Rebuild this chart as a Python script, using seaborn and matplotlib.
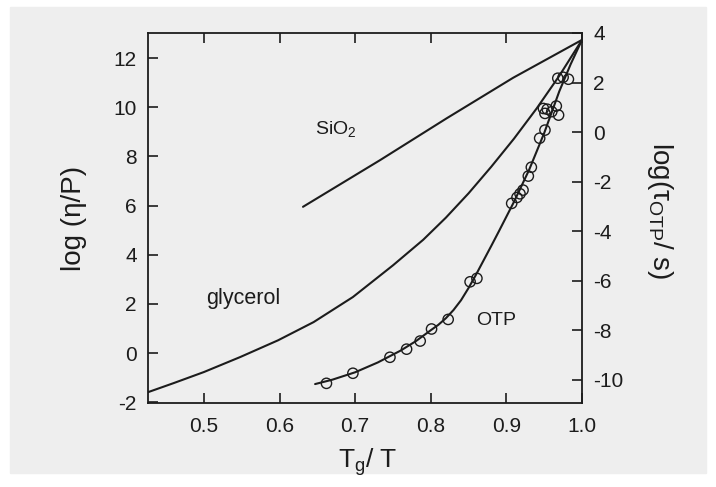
import matplotlib
matplotlib.use("Agg")
import matplotlib.pyplot as plt
import matplotlib.patches as mpatches
import seaborn as sns
import pandas as pd

# ---- data ----
sio2_x = [0.631, 0.733, 0.821, 0.909, 1.0]
sio2_y = [5.95, 7.85, 9.55, 11.2, 12.74]

glyc_x = [0.426, 0.46, 0.5, 0.548, 0.598, 0.645, 0.697, 0.75, 0.79, 0.82,
          0.85, 0.88, 0.91, 0.94, 0.97, 1.0]
glyc_y = [-1.59, -1.22, -0.77, -0.16, 0.52, 1.26, 2.28, 3.57, 4.61, 5.51,
          6.5, 7.58, 8.72, 9.95, 11.28, 12.74]

otp_line_x = [0.647, 0.67, 0.70, 0.73, 0.76, 0.78, 0.80, 0.81, 0.82, 0.83, 0.84,
              0.85, 0.86, 0.87, 0.88, 0.89, 0.90, 0.91, 0.93, 0.95, 0.97, 0.985, 1.0]
otp_line_y = [-1.26, -1.08, -0.78, -0.38, 0.1, 0.48, 0.93, 1.15, 1.42, 1.75, 2.15,
              2.65, 3.2, 3.78, 4.36, 4.95, 5.55, 6.15, 7.45, 8.95, 10.65, 11.75, 12.74]

otp_pts_x = [0.662, 0.697, 0.746, 0.768, 0.786, 0.801, 0.823, 0.852, 0.861,
             0.907, 0.914, 0.918, 0.922, 0.929, 0.933, 0.944, 0.951,
             0.951, 0.954, 0.960, 0.966, 0.969, 0.949,
             0.968, 0.975, 0.982]
otp_pts_y = [-1.23, -0.82, -0.17, 0.16, 0.49, 0.98, 1.37, 2.9, 3.04,
             6.09, 6.33, 6.48, 6.63, 7.2, 7.56, 8.74, 9.07,
             9.75, 9.92, 9.82, 10.05, 9.68, 9.95,
             11.18, 11.22, 11.14]

x_ticks = [0.5, 0.6, 0.7, 0.8, 0.9, 1.0]
y_ticks = [-2, 0, 2, 4, 6, 8, 10, 12]
y2_ticks = [-10, -8, -6, -4, -2, 0, 2, 4]

# ---- style ----
sns.set_theme(style="ticks")
plt.rcParams['font.family'] = ['Liberation Sans', 'DejaVu Sans']
plt.rcParams['axes.unicode_minus'] = False
plt.rcParams['mathtext.default'] = 'regular'

BG = '#eeeeee'
INK = '#1c1c1c'

fig = plt.figure(figsize=(7.16, 4.87), dpi=100, facecolor='white')
fig.patches.append(mpatches.Rectangle((0.014, 0.028), 0.972, 0.958,
                                      transform=fig.transFigure, color=BG, zorder=-10))
ax = fig.add_axes([148/716, (487-403)/487, 434/716, 370/487])
ax.set_facecolor(BG)

df_s = pd.DataFrame({'x': sio2_x, 'y': sio2_y})
df_g = pd.DataFrame({'x': glyc_x, 'y': glyc_y})
df_o = pd.DataFrame({'x': otp_line_x, 'y': otp_line_y})
df_p = pd.DataFrame({'x': otp_pts_x, 'y': otp_pts_y})

for d in (df_s, df_g, df_o):
    sns.lineplot(data=d, x='x', y='y', ax=ax, color=INK, lw=1.5, sort=False,
                 estimator=None)
sns.scatterplot(data=df_p, x='x', y='y', ax=ax, marker='o', s=55,
                facecolor='none', edgecolor=INK, linewidth=1.0, zorder=3)

ax.set_xlim(0.426, 1.0)
ax.set_ylim(-2.03, 13.02)
ax.set_xticks(x_ticks)
ax.set_yticks(y_ticks)
ax.set_xticklabels([f"{v:.1f}" for v in x_ticks])
ax.set_yticklabels([str(v) for v in y_ticks])

for sp in ax.spines.values():
    sp.set_visible(True)
    sp.set_color(INK)
    sp.set_linewidth(1.3)

ax.tick_params(axis='x', direction='in', top=True, length=7, width=1.2,
               labelsize=15, pad=10, colors=INK)
ax.tick_params(axis='y', direction='in', left=True, right=False, length=7,
               width=1.2, labelsize=15, pad=8, colors=INK)

ax.set_xlabel('T$_g$/ T', fontsize=19, color=INK)
ax.xaxis.set_label_coords(0.507, -0.118)
ax.set_ylabel('log (η/P)', fontsize=20, color=INK)
ax.yaxis.set_label_coords(-0.141, 0.5)

ax2 = ax.twinx()
ax2.set_ylim(-10.94, 4.0)
ax2.set_yticks(y2_ticks)
ax2.set_yticklabels([str(v) for v in y2_ticks])
ax2.tick_params(axis='y', direction='in', length=7, width=1.2, labelsize=15,
                pad=8, colors=INK)
for sp in ax2.spines.values():
    sp.set_visible(False)
ax2.set_ylabel('log(τ$_{OTP}$/ s)', fontsize=20, rotation=270, color=INK)
ax2.yaxis.set_label_coords(1.214, 0.52)

ax.text(0.675, 9.1, 'SiO$_2$', fontsize=14, ha='center', va='center', color=INK)
ax.text(0.552, 2.22, 'glycerol', fontsize=15.5, ha='center', va='center', color=INK)
ax.text(0.886, 1.34, 'OTP', fontsize=14, ha='center', va='center', color=INK)

fig.savefig('out.png', dpi=100, facecolor=fig.get_facecolor())
